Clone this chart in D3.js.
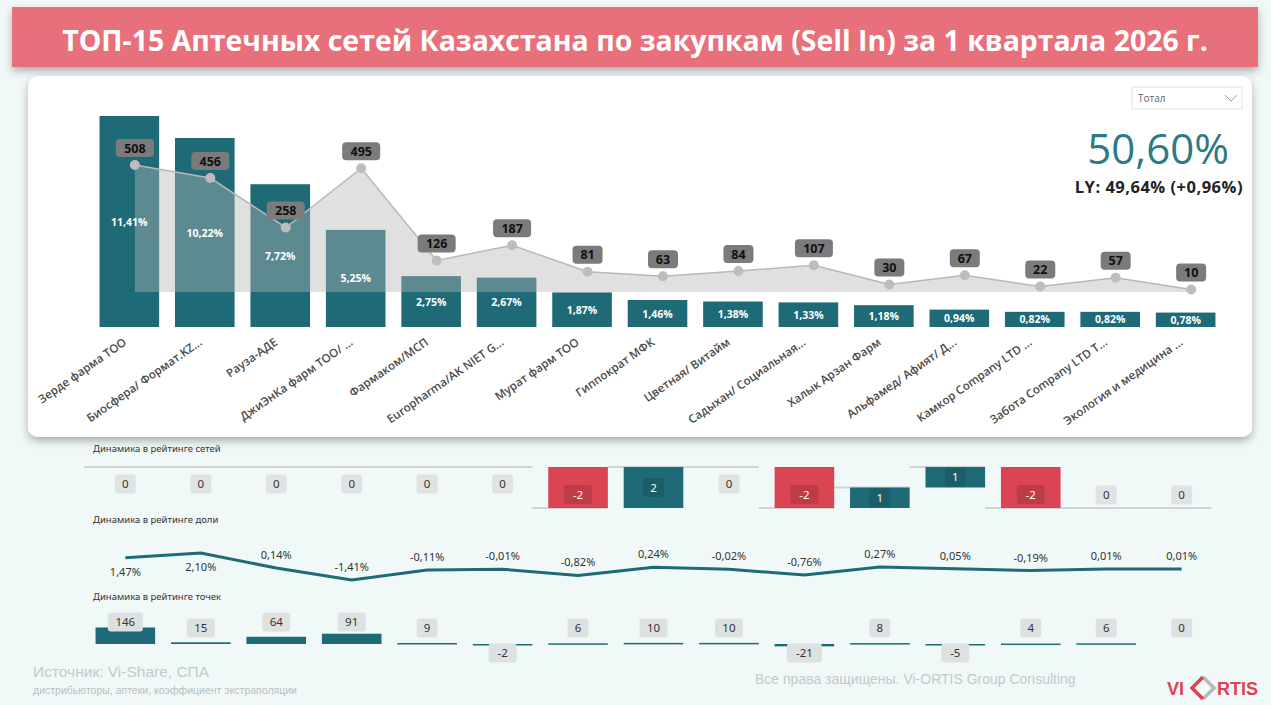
<!DOCTYPE html>
<html>
<head>
<meta charset="utf-8">
<script src="https://cdn.jsdelivr.net/npm/d3@7"></script>
<style>
  html, body { margin: 0; padding: 0; background: #f1f9f8; }
  svg { display: block; }
</style>
</head>
<body>
<svg id="chart" width="1271" height="705"></svg>
<script>
// --- data ---
var chains = ["Зерде фарма ТОО", "Биосфера/ Формат.KZ...", "Рауза-АДЕ", "ДжиЭнКа фарм ТОО/ ...",
  "Фармаком/МСП", "Europharma/AK NIET G...", "Мурат фарм ТОО", "Гиппократ МФК", "Цветная/ Витайм",
  "Садыхан/ Социальная...", "Халык Арзан Фарм", "Альфамед/ Афият/ Д...", "Камкор Company LTD ...",
  "Забота Company LTD Т...", "Экология и медицина ..."];
var share = [11.41, 10.22, 7.72, 5.25, 2.75, 2.67, 1.87, 1.46, 1.38, 1.33, 1.18, 0.94, 0.82, 0.82, 0.78];
var outlets = [508, 456, 258, 495, 126, 187, 81, 63, 84, 107, 30, 67, 22, 57, 10];
var rankChange = [0, 0, 0, 0, 0, 0, -2, 2, 0, -2, 1, 1, -2, 0, 0];
var shareChange = [1.47, 2.10, 0.14, -1.41, -0.11, -0.01, -0.82, 0.24, -0.02, -0.76, 0.27, 0.05, -0.19, 0.01, 0.01];
var outletChange = [146, 15, 64, 91, 9, -2, 6, 10, 10, -21, 8, -5, 4, 6, 0];

var title = "ТОП-15 Аптечных сетей Казахстана по закупкам (Sell In) за 1 квартала 2026 г.";
var kpiValue = 50.60, kpiLY = 49.64, kpiDelta = 0.96;

var teal = "#1e6b77", red = "#d94553";
var fmt2 = function (v) { return d3.format(".2f")(v).replace(".", ",").replace("−", "-"); };

var svg = d3.select("#chart");
var defs = svg.append("defs");
var sh = defs.append("filter").attr("id", "shadow")
  .attr("x", "-5%").attr("y", "-10%").attr("width", "110%").attr("height", "130%");
sh.append("feDropShadow").attr("dx", 0).attr("dy", 4).attr("stdDeviation", 4)
  .attr("flood-color", "#000").attr("flood-opacity", 0.3);

svg.append("rect").attr("width", 1271).attr("height", 705).attr("fill", "#f1f9f8");

// title banner
svg.append("rect").attr("x", 12).attr("y", 7).attr("width", 1246).attr("height", 60)
  .attr("fill", "#e8707a").attr("filter", "url(#shadow)");
var t = svg.append("text").attr("x", 635).attr("y", 51).attr("text-anchor", "middle")
  .attr("fill", "#fff").attr("font-family", "Open Sans").attr("font-weight", 700)
  .attr("font-size", 27).text(title);
var tl = t.node().getComputedTextLength();
t.attr("font-size", 27 * 1146 / tl);

// white card
svg.append("rect").attr("x", 28).attr("y", 76).attr("width", 1224).attr("height", 361)
  .attr("rx", 10).attr("fill", "#fff").attr("filter", "url(#shadow)");

// --- main chart ---
var x = d3.scaleBand().domain(chains).range([92, 1223]).paddingInner(0.21).paddingOuter(0.1);
var xl = d3.scaleBand().domain(chains).range([97.5, 1228.5]).paddingInner(0.21).paddingOuter(0.1);
var y = d3.scaleLinear().domain([0, d3.max(share)]).range([327, 116]);
var yo = d3.scaleLinear().domain([0, d3.max(outlets)]).range([292, 165]);
var cx = function (i) { return x(chains[i]) + x.bandwidth() / 2; };
var lx = function (i) { return xl(chains[i]) + xl.bandwidth() / 2; };

svg.append("g").selectAll("rect").data(share).enter().append("rect")
  .attr("x", function (d, i) { return x(chains[i]); })
  .attr("y", function (d) { return y(d); })
  .attr("width", x.bandwidth())
  .attr("height", function (d) { return y(0) - y(d); })
  .attr("fill", teal);

var area = d3.area().x(function (d, i) { return lx(i); }).y0(yo(0)).y1(function (d) { return yo(d); });
var line = d3.line().x(function (d, i) { return lx(i); }).y(function (d) { return yo(d); });
svg.append("path").attr("d", area(outlets)).attr("fill", "#b4b4b4").attr("fill-opacity", 0.42);
svg.append("path").attr("d", line(outlets)).attr("fill", "none").attr("stroke", "#b8b8b8").attr("stroke-width", 1.5);
svg.append("g").selectAll("circle").data(outlets).enter().append("circle")
  .attr("cx", function (d, i) { return lx(i); }).attr("cy", function (d) { return yo(d); })
  .attr("r", 5).attr("fill", "#bdbdbd");

svg.append("g").selectAll("text").data(share).enter().append("text")
  .attr("x", function (d, i) { return cx(i); })
  .attr("y", function (d) { return (y(d) + y(0)) / 2 + 4; })
  .attr("text-anchor", "middle").attr("fill", "#fff")
  .attr("font-family", "Open Sans").attr("font-weight", 700).attr("font-size", 10.5)
  .text(function (d) { return fmt2(d) + "%"; });

var ol = svg.append("g").selectAll("g").data(outlets).enter().append("g")
  .attr("transform", function (d, i) { return "translate(" + lx(i) + "," + (yo(d) - 17) + ")"; });
ol.append("rect").attr("x", function (d) { return -String(d).length * 4 - 7; }).attr("y", -9)
  .attr("width", function (d) { return String(d).length * 8 + 14; }).attr("height", 18)
  .attr("rx", 4).attr("fill", "#7b7b7b");
ol.append("text").attr("text-anchor", "middle").attr("y", 4.5)
  .attr("font-family", "Open Sans").attr("font-weight", 700).attr("font-size", 12.5)
  .attr("fill", "#111").text(function (d) { return d; });

svg.append("g").selectAll("text").data(chains).enter().append("text")
  .attr("transform", function (d, i) { return "translate(" + (cx(i) - 2) + ",344) rotate(-35)"; })
  .attr("text-anchor", "end").attr("fill", "#4a4a4a")
  .attr("font-family", "Open Sans").attr("font-weight", 600).attr("font-size", 11.6)
  .text(function (d) { return d; });

// slicer
svg.append("rect").attr("x", 1132).attr("y", 87).attr("width", 110).attr("height", 22)
  .attr("fill", "#fff").attr("stroke", "#e2e2e2");
svg.append("text").attr("x", 1138).attr("y", 102).attr("font-family", "Open Sans")
  .attr("font-size", 10).attr("fill", "#666").text("Тотал");
svg.append("path").attr("d", "M1225,95 L1231,101 L1237,95").attr("fill", "none")
  .attr("stroke", "#999").attr("stroke-width", 1);

// KPI
svg.append("text").attr("x", 1229).attr("y", 164).attr("text-anchor", "end")
  .attr("font-family", "Open Sans").attr("font-weight", 400).attr("font-size", 42)
  .attr("fill", "#2b7a84").text(fmt2(kpiValue) + "%");
svg.append("text").attr("x", 1243).attr("y", 193).attr("text-anchor", "end")
  .attr("font-family", "Open Sans").attr("font-weight", 700).attr("font-size", 16.5)
  .attr("letter-spacing", 0.5)
  .attr("fill", "#222").text("LY: " + fmt2(kpiLY) + "% (+" + fmt2(kpiDelta) + "%)");

// --- bottom strips ---
var xb = d3.scaleBand().domain(chains).range([88, 1219]).paddingInner(0.21).paddingOuter(0.1);
var bx = function (i) { return xb(chains[i]) + xb.bandwidth() / 2; };

function stripTitle(txt, yy) {
  svg.append("text").attr("x", 93).attr("y", yy).attr("font-family", "Noto Sans")
    .attr("font-size", 9.5).attr("fill", "#333").text(txt);
}
function boxLabel(g, txt, px, py, fill, color) {
  var w = String(txt).length * 7 + 14;
  g.append("rect").attr("x", px - w / 2).attr("y", py - 9.5).attr("width", w).attr("height", 19)
    .attr("rx", 3).attr("fill", fill);
  g.append("text").attr("x", px).attr("y", py + 4).attr("text-anchor", "middle")
    .attr("font-family", "Noto Sans").attr("font-size", 11.5).attr("fill", color).text(txt);
}

// 1. rank change (waterfall)
stripTitle("Динамика в рейтинге сетей", 452);
var cum = [], run = 0;
rankChange.forEach(function (d) { cum.push([run, run + d]); run += d; });
var yr = d3.scaleLinear().domain([-2, 0]).range([508, 467]);
var step = xb.step();
var stepPath = "";
cum.forEach(function (c, i) {
  var x0 = i === 0 ? 84 : xb(chains[i]) - (step - xb.bandwidth());
  var x1 = xb(chains[i]) + xb.bandwidth();
  stepPath += "M" + x0 + "," + yr(c[1]) + "H" + x1;
});
svg.append("path").attr("d", stepPath).attr("stroke", "#cfd4d4").attr("stroke-width", 2).attr("fill", "none");
var g1 = svg.append("g");
cum.forEach(function (c, i) {
  var d = rankChange[i];
  if (d !== 0) {
    g1.append("rect").attr("x", xb(chains[i])).attr("width", xb.bandwidth())
      .attr("y", yr(Math.max(c[0], c[1]))).attr("height", Math.abs(yr(c[0]) - yr(c[1])))
      .attr("fill", d < 0 ? red : teal);
    var ly = (yr(c[0]) + yr(c[1])) / 2 + (d < 0 ? 7 : 0);
    boxLabel(g1, d, bx(i), ly, "rgba(0,0,0,0.12)", "#fff");
  } else {
    var ly0 = c[1] === 0 ? yr(0) + 17 : yr(c[1]) - 13;
    boxLabel(g1, d, bx(i), ly0, "#dfe3e3", "#333");
  }
});

// 2. share change line
stripTitle("Динамика в рейтинге доли", 523);
var ys = d3.scaleLinear().domain([d3.min(shareChange), d3.max(shareChange)]).range([580, 553]);
svg.append("path").attr("d", d3.line().x(function (d, i) { return bx(i); }).y(function (d) { return ys(d); })(shareChange))
  .attr("fill", "none").attr("stroke", teal).attr("stroke-width", 3);
svg.append("g").selectAll("text").data(shareChange).enter().append("text")
  .attr("x", function (d, i) { return bx(i); })
  .attr("y", function (d) { var p = ys(d); return (p < 562 ? p + 14 : p - 13) + 4; })
  .attr("text-anchor", "middle").attr("font-family", "Noto Sans").attr("font-size", 11)
  .attr("fill", "#333").text(function (d) { return fmt2(d) + "%"; });

// 3. outlets change bars
stripTitle("Динамика в рейтинге точек", 600);
var yc = d3.scaleLinear().domain([0, d3.max(outletChange)]).range([644, 627.5]);
svg.append("g").selectAll("rect").data(outletChange).enter().append("rect")
  .attr("x", function (d, i) { return xb(chains[i]); })
  .attr("width", xb.bandwidth())
  .attr("y", function (d) { return yc(Math.max(0, d)); })
  .attr("height", function (d) { return Math.max(Math.abs(yc(d) - yc(0)), d === 0 ? 0 : 1.5); })
  .attr("fill", teal);
var g3 = svg.append("g");
outletChange.forEach(function (d, i) {
  var ly = d < 0 ? 653 : (d >= 50 ? 622 : 628);
  boxLabel(g3, d, bx(i), ly, "#dde1e1", "#333");
});

// footer
svg.append("text").attr("x", 33).attr("y", 677).attr("font-family", "Liberation Sans")
  .attr("font-size", 15.5).attr("fill", "#c2caca").text("Источник: Vi-Share, СПА");
svg.append("text").attr("x", 33).attr("y", 694).attr("font-family", "Liberation Sans")
  .attr("font-size", 10.5).attr("fill", "#b7bfbf").text("дистрибьюторы, аптеки, коэффициент экстраполяции");
svg.append("text").attr("x", 755).attr("y", 684).attr("font-family", "Liberation Sans")
  .attr("font-size", 14).attr("fill", "#c2caca").text("Все права защищены. Vi-ORTIS Group Consulting");

// logo
var logo = svg.append("g").attr("font-family", "Liberation Sans").attr("font-weight", 700)
  .attr("font-size", 18).attr("fill", red);
logo.append("text").attr("x", 1167).attr("y", 695).text("VI");
logo.append("path").attr("d", "M1203,677 L1214,688 L1203,699").attr("fill", "none").attr("stroke", "#b9b9b9").attr("stroke-width", 3.5);
logo.append("path").attr("d", "M1203,677 L1192,688 L1203,699").attr("fill", "none").attr("stroke", red).attr("stroke-width", 3.5);
logo.append("text").attr("x", 1217).attr("y", 695).text("RTIS");
</script>
</body>
</html>
